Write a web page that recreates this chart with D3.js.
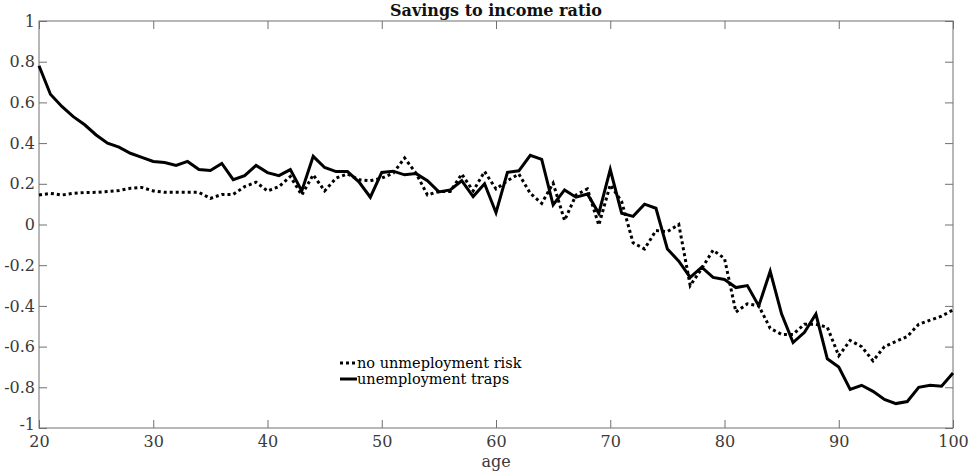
<!DOCTYPE html>
<html>
<head>
<meta charset="utf-8">
<script src="https://cdn.jsdelivr.net/npm/d3@7"></script>
<style>
  html, body { margin: 0; padding: 0; background: #fff; }
  svg { display: block; }
</style>
</head>
<body>
<svg id="chart" width="973" height="473"></svg>
<script>
// ---- data ----
const ages = d3.range(20, 101);
const noRisk = [
  0.145, 0.153, 0.145, 0.153, 0.157, 0.158, 0.162, 0.167, 0.178, 0.182,
  0.165, 0.158, 0.158, 0.158, 0.158, 0.128, 0.148, 0.148, 0.186, 0.208,
  0.165, 0.186, 0.236, 0.145, 0.244, 0.165, 0.228, 0.248, 0.220, 0.215,
  0.228, 0.252, 0.327, 0.252, 0.145, 0.162, 0.162, 0.248, 0.165, 0.260,
  0.175, 0.215, 0.248, 0.153, 0.104, 0.203, 0.020, 0.145, 0.175, -0.003,
  0.195, 0.112, -0.090, -0.120, -0.030, -0.035, 0.000, -0.300, -0.217, -0.126,
  -0.167, -0.430, -0.390, -0.400, -0.510, -0.540, -0.540, -0.490, -0.490, -0.505,
  -0.645, -0.570, -0.600, -0.670, -0.600, -0.575, -0.550, -0.490, -0.470, -0.450,
  -0.420
];
const traps = [
  0.780, 0.640, 0.580, 0.530, 0.490, 0.440, 0.400, 0.380, 0.350, 0.330,
  0.310, 0.305, 0.290, 0.310, 0.270, 0.265, 0.300, 0.220, 0.240, 0.290,
  0.255, 0.240, 0.270, 0.165, 0.335, 0.280, 0.260, 0.260, 0.210, 0.134,
  0.256, 0.262, 0.244, 0.250, 0.215, 0.160, 0.170, 0.215, 0.137, 0.200,
  0.058, 0.256, 0.264, 0.340, 0.320, 0.096, 0.170, 0.134, 0.150, 0.055,
  0.270, 0.055, 0.040, 0.100, 0.080, -0.120, -0.180, -0.260, -0.210, -0.260,
  -0.270, -0.310, -0.300, -0.400, -0.230, -0.440, -0.580, -0.530, -0.440, -0.660,
  -0.700, -0.810, -0.790, -0.820, -0.860, -0.880, -0.870, -0.800, -0.790, -0.795,
  -0.730
];
const xTicks = [20, 30, 40, 50, 60, 70, 80, 90, 100];
const yTicks = [-1, -0.8, -0.6, -0.4, -0.2, 0, 0.2, 0.4, 0.6, 0.8, 1];
const yTickLabels = ["-1", "-0.8", "-0.6", "-0.4", "-0.2", "0", "0.2", "0.4", "0.6", "0.8", "1"];
const seriesNames = ["no unmeployment risk", "unemployment traps"];
const titleText = "Savings to income ratio";
const xLabelText = "age";

// ---- layout ----
const L = 39, R = 953, T = 21, B = 428;
const FONT = "'DejaVu Serif', 'Liberation Serif', serif";
const axisColor = "#707070";
const labelColor = "#3a3a3a";
const tickLen = 8;

const svg = d3.select("#chart");
const x = d3.scaleLinear().domain([20, 100]).range([L, R]);
const y = d3.scaleLinear().domain([-1, 1]).range([B, T]);

const axB = d3.axisBottom(x).tickValues(xTicks).tickSizeInner(-tickLen).tickSizeOuter(0).tickFormat(d3.format("d"));
const axT = d3.axisTop(x).tickValues(xTicks).tickSizeInner(-tickLen).tickSizeOuter(0).tickFormat("");
const axL = d3.axisLeft(y).tickValues(yTicks).tickSizeInner(-tickLen).tickSizeOuter(0)
  .tickFormat((d, i) => yTickLabels[i]);
const axR = d3.axisRight(y).tickValues(yTicks).tickSizeInner(-tickLen).tickSizeOuter(0).tickFormat("");

function styleAxis(g) {
  g.select(".domain").remove();
  g.selectAll(".tick line").attr("stroke", axisColor).attr("stroke-width", 1);
  g.selectAll(".tick text").attr("fill", labelColor).style("font-family", FONT).style("font-size", "16px");
}

svg.append("g").attr("transform", `translate(0,${B})`).call(axB).call(styleAxis)
  .selectAll(".tick text").attr("y", 5).attr("dy", "0.9em");
svg.append("g").attr("transform", `translate(0,${T})`).call(axT).call(styleAxis);
svg.append("g").attr("transform", `translate(${L},0)`).call(axL).call(styleAxis)
  .selectAll(".tick text").attr("x", -4).attr("dy", (d) => d === -1 ? "0.1em" : "0.32em");
svg.append("g").attr("transform", `translate(${R},0)`).call(axR).call(styleAxis);

svg.append("rect").attr("x", L).attr("y", T).attr("width", R - L).attr("height", B - T)
  .attr("fill", "none").attr("stroke", axisColor).attr("stroke-width", 1);

const line = d3.line().x((d, i) => x(ages[i])).y(d => y(d));
svg.append("path").datum(noRisk).attr("d", line).attr("fill", "none")
  .attr("stroke", "#000").attr("stroke-width", 3).attr("stroke-dasharray", "3,3");
svg.append("path").datum(traps).attr("d", line).attr("fill", "none")
  .attr("stroke", "#000").attr("stroke-width", 3);

svg.append("text").attr("x", (L + R) / 2).attr("y", 16).attr("text-anchor", "middle")
  .style("font-family", FONT).style("font-size", "16px").style("font-weight", "bold").attr("fill", "#111")
  .text(titleText);

svg.append("text").attr("x", (L + R) / 2).attr("y", 467).attr("text-anchor", "middle")
  .style("font-family", FONT).style("font-size", "16px").attr("fill", labelColor)
  .text(xLabelText);

const lg = svg.append("g");
const legendRows = [
  { name: seriesNames[0], dash: "3,3", y: 363 },
  { name: seriesNames[1], dash: null, y: 379 }
];
legendRows.forEach(r => {
  const ln = lg.append("line").attr("x1", 340).attr("x2", 357).attr("y1", r.y).attr("y2", r.y)
    .attr("stroke", "#000").attr("stroke-width", 3);
  if (r.dash) ln.attr("stroke-dasharray", r.dash);
  lg.append("text").attr("x", 357).attr("y", r.y + 4.5)
    .style("font-family", FONT).style("font-size", "14.5px").attr("fill", "#000").text(r.name);
});
</script>
</body>
</html>
